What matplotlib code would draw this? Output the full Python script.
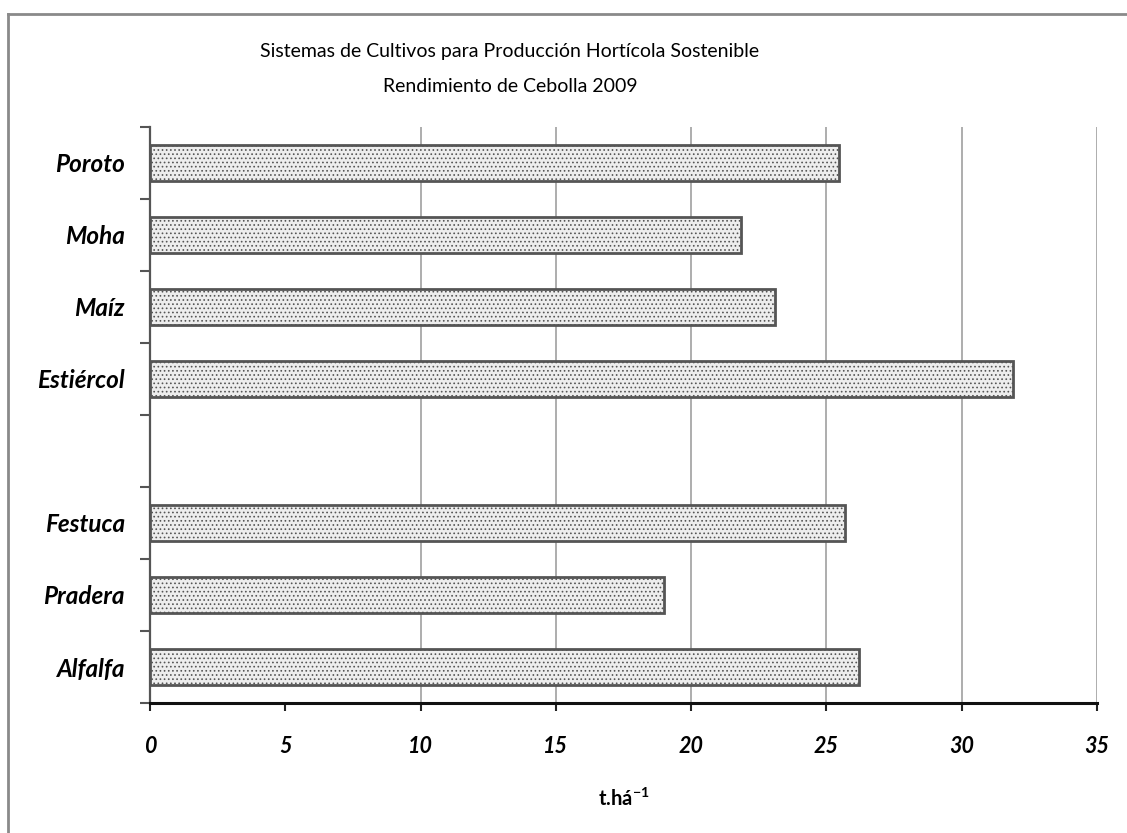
import matplotlib
matplotlib.use("Agg")
import matplotlib.pyplot as plt
import numpy as np
from matplotlib.lines import Line2D

plt.rcParams['font.family'] = ['Lato', 'DejaVu Sans']
plt.rcParams['mathtext.fontset'] = 'custom'
plt.rcParams['mathtext.rm'] = 'Lato:bold'
plt.rcParams['hatch.color'] = '#cfcfcf'
plt.rcParams['hatch.linewidth'] = 0.7

categories = ['Poroto', 'Moha', 'Maíz', 'Estiércol', '', 'Festuca', 'Pradera', 'Alfalfa']
values = [25.45, 21.85, 23.1, 31.9, np.nan, 25.7, 19.0, 26.2]
xticks = [0, 5, 10, 15, 20, 25, 30, 35]

fig = plt.figure(figsize=(11.27, 8.33), dpi=100)
ax = fig.add_axes([150/1127, 1-703/833, (1097-150)/1127, (703-127)/833])

pos = np.arange(len(categories))
vals = np.array(values)
mask = ~np.isnan(vals)
ax.barh(pos[mask], vals[mask], height=0.49, color='#ededed', edgecolor='#555555',
        linewidth=2, hatch='....', zorder=3)

ax.set_xlim(0, 35)
ax.set_ylim(len(categories) - 0.5, -0.5)
ax.set_xticks(xticks)
ax.set_xticklabels([str(t) for t in xticks], fontsize=15.5, fontweight='bold', fontstyle='italic')
ax.tick_params(axis='x', direction='out', length=6, width=1.5, color='#222222', pad=18)

ax.set_yticks(np.arange(-0.5, len(categories), 1.0))
ax.set_yticklabels([])
ax.set_yticks(pos, minor=True)
ax.set_yticklabels(categories, minor=True, fontsize=17.5, fontweight='bold', fontstyle='italic')
ax.tick_params(axis='y', which='major', direction='out', length=7, width=1.5, color='#555555')
ax.tick_params(axis='y', which='minor', length=0, pad=18)

ax.grid(axis='x', color='#a0a0a0', linewidth=1.2, zorder=0)
ax.set_axisbelow(True)
gl = ax.xaxis.get_gridlines()
gl[0].set_visible(False)
gl[1].set_visible(False)

for s in ['top', 'right']:
    ax.spines[s].set_visible(False)
ax.spines['bottom'].set_color('#111111')
ax.spines['bottom'].set_linewidth(2.2)
ax.spines['left'].set_color('#555555')
ax.spines['left'].set_linewidth(1.6)

ax.set_xlabel('t.há$^{\\mathrm{-1}}$', fontsize=14.5, fontweight='bold', labelpad=22)

fig.text(510/1127, 1-52/833, 'Sistemas de Cultivos para Producción Hortícola Sostenible',
         ha='center', va='center', fontsize=14)
fig.text(510/1127, 1-87/833, 'Rendimiento de Cebolla 2009',
         ha='center', va='center', fontsize=14)

# chart-area border
fig.add_artist(Line2D([8/1127, 8/1127], [0, 1-14/833], transform=fig.transFigure,
                      color='#8a8a8a', linewidth=2))
fig.add_artist(Line2D([8/1127, 1], [1-14/833, 1-14/833], transform=fig.transFigure,
                      color='#8a8a8a', linewidth=2))

fig.savefig('out.png', dpi=100)
